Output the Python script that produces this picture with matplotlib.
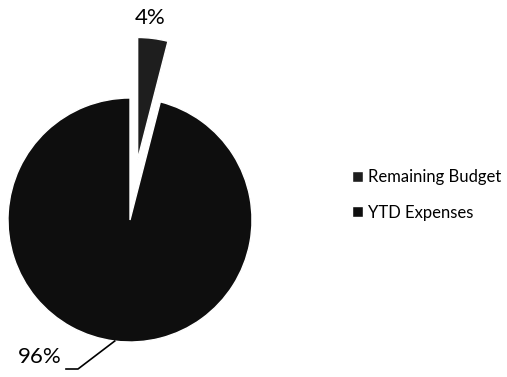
import numpy as np
import matplotlib.pyplot as plt

# budget split shown in the pie
labels = ["Remaining Budget", "YTD Expenses"]
values = [4, 96]
pct_text = ["4%", "96%"]
colors = ["#1e1e1e", "#0e0e0e"]

plt.rcParams['font.family'] = ['Lato', 'DejaVu Sans']

fig = plt.figure(figsize=(5.07, 3.77), dpi=100)
ax = fig.add_axes([0, 0, 1, 1])

# work in pixel-like units so placement is easy
cx, cy, r = 130, 157, 122
# explode is an absolute offset here, so half the radius
wedges, _ = ax.pie(values, colors=colors, startangle=90, counterclock=False,
                   explode=[0.5 * r, 0], radius=r, center=(cx, cy),
                   wedgeprops=dict(edgecolor="white", linewidth=1.0))
ax.set_xlim(0, 507)
ax.set_ylim(0, 377)
ax.set_aspect("equal")
ax.axis("off")

# 4% label above the exploded wedge
ax.text(150, 359, pct_text[0], fontsize=16, ha="center", va="center")

# 96% label with leader line to the slice's mid-angle
w = wedges[1]
mid = np.deg2rad((w.theta1 + w.theta2) / 2)
px = cx + r * np.cos(mid)
py = cy + r * np.sin(mid)
ax.plot([px, 78, 66], [py, 8, 8], color="black", lw=1.2)
ax.text(40, 20, pct_text[1], fontsize=16, ha="center", va="center")

ax.legend(wedges, labels, loc="center left", bbox_to_anchor=(352 / 507, 1 - 195 / 377),
          frameon=False, fontsize=12, handlelength=0.65, handleheight=0.65,
          handletextpad=0.3, labelspacing=1.15, borderpad=0, borderaxespad=0)

fig.savefig("out.png", dpi=100)
